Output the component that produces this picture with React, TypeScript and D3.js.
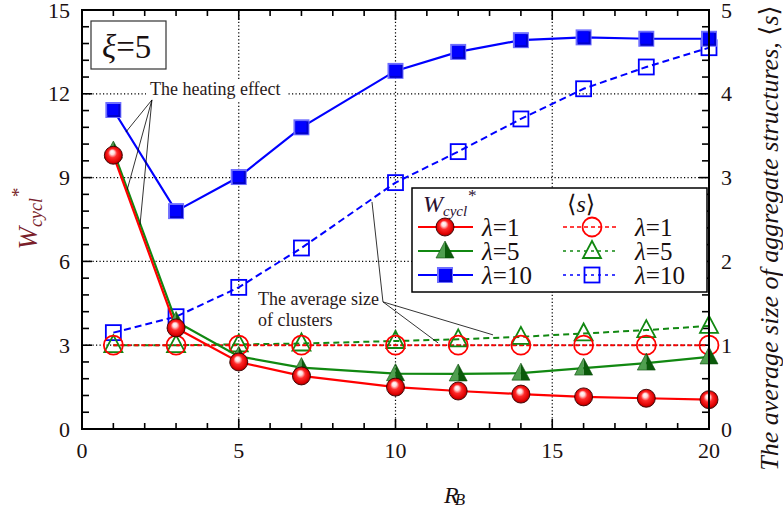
import React from "react";
import * as d3 from "d3";

const xValues = [1, 3, 5, 7, 10, 12, 14, 16, 18, 20];
const wLambda1 = [9.8, 3.62, 2.4, 1.9, 1.5, 1.36, 1.25, 1.15, 1.1, 1.05];
const wLambda5 = [9.95, 3.85, 2.6, 2.2, 1.98, 1.97, 2.0, 2.18, 2.36, 2.58];
const wLambda10 = [11.42, 7.8, 9.02, 10.8, 12.82, 13.5, 13.92, 14.02, 13.97, 13.97];
const sLambda1 = [1, 1, 1, 1, 1, 1, 1, 1, 1, 1];
const sLambda5 = [1.0, 1.0, 1.01, 1.02, 1.05, 1.07, 1.1, 1.14, 1.18, 1.23];
const sLambda10 = [1.15, 1.34, 1.69, 2.16, 2.94, 3.31, 3.7, 4.06, 4.32, 4.55];
const xTicks = [0, 5, 10, 15, 20];
const yLeftTicks = [0, 3, 6, 9, 12, 15];
const yRightTicks = [0, 1, 2, 3, 4, 5];
const lambdaLabels = ["1", "5", "10"];
const heatingAnchor = [2.23, 11.78];
const heatingTargets = [[1.4, 10.63], [1.44, 8.56], [1.85, 7.3]];
const avgAnchor = [9.6, 4.55];
const avgTargets = [[9.25, 8.13], [11.36, 3.08], [13.11, 3.37]];

const FONT = "'Liberation Serif', 'Times New Roman', 'DejaVu Serif', serif";
const RED = "#ff0000";
const GREEN = "#118811";
const BLUE = "#0000ff";

type Kind = "ball" | "tri" | "sq" | "oc" | "ot" | "os";

function Marker({ kind, cx, cy }: { kind: Kind; cx: number; cy: number }) {
  switch (kind) {
    case "ball":
      return <circle cx={cx} cy={cy} r={9} fill="url(#redBall)" stroke="#3a0000" strokeWidth={0.9} />;
    case "tri":
      return (
        <g>
          <polygon points={`${cx},${cy - 10} ${cx - 9},${cy + 7} ${cx},${cy + 7}`} fill="#4f9f4f" />
          <polygon points={`${cx},${cy - 10} ${cx + 9},${cy + 7} ${cx},${cy + 7}`} fill="#0a5a0a" />
          <polygon points={`${cx},${cy - 10} ${cx - 9},${cy + 7} ${cx + 9},${cy + 7}`} fill="none" stroke="#0b4d0b" strokeWidth={0.6} />
        </g>
      );
    case "sq":
      return (
        <g>
          <rect x={cx - 8} y={cy - 8} width={16} height={16} fill="#6e6eff" />
          <rect x={cx - 6} y={cy - 6} width={13} height={13} fill="#0000cc" />
          <rect x={cx - 6} y={cy - 6} width={11} height={11} fill="#0000ff" />
        </g>
      );
    case "oc":
      return <circle cx={cx} cy={cy} r={9.5} fill="none" stroke={RED} strokeWidth={1.8} />;
    case "ot":
      return (
        <polygon
          points={`${cx},${cy - 10} ${cx - 9},${cy + 7} ${cx + 9},${cy + 7}`}
          fill="none"
          stroke={GREEN}
          strokeWidth={1.8}
        />
      );
    case "os":
      return <rect x={cx - 7.5} y={cy - 7.5} width={15} height={15} fill="none" stroke={BLUE} strokeWidth={1.8} />;
  }
  return null;
}

export default function App() {
  const W = 783;
  const H = 506;
  const x = d3.scaleLinear().domain([0, 20]).range([82, 709]);
  const yL = d3.scaleLinear().domain([0, 15]).range([429, 10]);
  const yR = d3.scaleLinear().domain([0, 5]).range([429, 10]);

  const lineL = d3
    .line<number>()
    .x((_, i) => x(xValues[i]))
    .y((d) => yL(d));
  const lineR = d3
    .line<number>()
    .x((_, i) => x(xValues[i]))
    .y((d) => yR(d));

  const sSeries = [
    { data: sLambda10, color: BLUE, dash: "7,4", kind: "os" as Kind },
    { data: sLambda5, color: GREEN, dash: "6,4", kind: "ot" as Kind },
    { data: sLambda1, color: RED, dash: "4,3", kind: "oc" as Kind },
  ];
  const wSeries = [
    { data: wLambda10, color: BLUE, kind: "sq" as Kind },
    { data: wLambda5, color: GREEN, kind: "tri" as Kind },
    { data: wLambda1, color: RED, kind: "ball" as Kind },
  ];

  const xMinor = d3.range(0, 21, 1);
  const yLMinor = d3.range(0, 26).map((i) => i * 0.6);
  const yRMinor = d3.range(0, 26).map((i) => i * 0.2);
  const [x0, x1] = x.range();
  const [yb, yt] = yL.range();

  const legendRows = [
    { color: RED, w: "ball" as Kind, s: "oc" as Kind, dash: "4,3" },
    { color: GREEN, w: "tri" as Kind, s: "ot" as Kind, dash: "3,4" },
    { color: BLUE, w: "sq" as Kind, s: "os" as Kind, dash: "3,4" },
  ];

  return (
    <svg
      width={W}
      height={H}
      style={{ position: "absolute", left: 0, top: 0, background: "#fff" }}
      fontFamily={FONT}
    >
      <defs>
        <radialGradient id="redBall" cx="0.5" cy="0.5" r="0.55" fx="0.42" fy="0.3">
          <stop offset="0" stopColor="#ffffff" />
          <stop offset="0.22" stopColor="#ffdada" />
          <stop offset="0.45" stopColor="#ff2a2a" />
          <stop offset="0.8" stopColor="#dd0000" />
          <stop offset="1" stopColor="#6a0000" />
        </radialGradient>
        <clipPath id="plotClip">
          <rect x={x0} y={yt - 12} width={x1 - x0 + 12} height={yb - yt + 12} />
        </clipPath>
      </defs>
      <rect x={0} y={0} width={W} height={H} fill="#fff" />

      {/* gridlines */}
      {[5, 10, 15].map((v) => (
        <line key={"gx" + v} x1={x(v)} x2={x(v)} y1={yb} y2={yt} stroke="#000" strokeWidth={1.2} strokeDasharray="1.2,2.3" />
      ))}
      {[3, 6, 9, 12].map((v) => (
        <line key={"gy" + v} x1={x0} x2={x1} y1={yL(v)} y2={yL(v)} stroke="#000" strokeWidth={1.2} strokeDasharray="1.2,2.3" />
      ))}

      {/* ticks */}
      {xMinor.map((v) => {
        const len = v % 5 === 0 ? 10 : 6;
        return (
          <g key={"xt" + v}>
            <line x1={x(v)} x2={x(v)} y1={yb} y2={yb - len} stroke="#000" strokeWidth={1.6} />
            <line x1={x(v)} x2={x(v)} y1={yt} y2={yt + len} stroke="#000" strokeWidth={1.6} />
          </g>
        );
      })}
      {yLMinor.map((v, i) => {
        const len = i % 5 === 0 ? 10 : 7;
        return <line key={"ylt" + i} x1={x0} x2={x0 + len} y1={yL(v)} y2={yL(v)} stroke="#000" strokeWidth={1.6} />;
      })}
      {yRMinor.map((v, i) => {
        const len = i % 5 === 0 ? 10 : 7;
        return <line key={"yrt" + i} x1={x1} x2={x1 - len} y1={yR(v)} y2={yR(v)} stroke="#000" strokeWidth={1.6} />;
      })}

      {/* heating effect label with white background */}
      <rect x={146} y={80} width={142} height={20} fill="#fff" />
      <text x={150} y={95} fontSize={18} fill="#2a1a1a">
        The heating effect
      </text>

      {/* <s> series */}
      {sSeries.map((s, k) => (
        <path key={"sl" + k} d={lineR(s.data) || ""} fill="none" stroke={s.color} strokeWidth={2} strokeDasharray={s.dash} />
      ))}
      {sSeries.map((s, k) =>
        s.data.map((d, i) => <Marker key={"sm" + k + "-" + i} kind={s.kind} cx={x(xValues[i])} cy={yR(d)} />)
      )}

      {/* W series */}
      {wSeries.map((s, k) => (
        <path key={"wl" + k} d={lineL(s.data) || ""} fill="none" stroke={s.color} strokeWidth={2.2} />
      ))}
      {wSeries.map((s, k) =>
        s.data.map((d, i) => <Marker key={"wm" + k + "-" + i} kind={s.kind} cx={x(xValues[i])} cy={yL(d)} />)
      )}

      {/* leader lines */}
      {heatingTargets.map((t, i) => (
        <line key={"hl" + i} x1={x(heatingAnchor[0])} y1={yL(heatingAnchor[1])} x2={x(t[0])} y2={yL(t[1])} stroke="#000" strokeWidth={0.8} />
      ))}
      {avgTargets.map((t, i) => (
        <line key={"al" + i} x1={x(avgAnchor[0])} y1={yL(avgAnchor[1])} x2={x(t[0])} y2={yL(t[1])} stroke="#000" strokeWidth={0.8} />
      ))}
      <text x={258} y={305} fontSize={18} fill="#2a1a1a">
        The average size
      </text>
      <text x={258} y={326} fontSize={18} fill="#2a1a1a">
        of clusters
      </text>

      {/* xi box */}
      <rect x={91} y={21} width={75} height={48} fill="#fff" stroke="#333" strokeWidth={1.2} />
      <text x={102} y={58} fontSize={33} fill="#1a1010">
        <tspan fontStyle="italic">ξ</tspan>=5
      </text>

      {/* legend */}
      <rect x={412} y={188} width={295} height={104} fill="#fff" stroke="#000" strokeWidth={1.5} />
      <text x={423} y={212} fontSize={24} fill="#2a1030" fontStyle="italic">
        W<tspan fontSize={15} dy={4}>cycl</tspan>
        <tspan fontSize={17} dy={-15}>*</tspan>
      </text>
      <text x={567} y={212} fontSize={24} fill="#1a1010">
        ⟨<tspan fontStyle="italic">s</tspan>⟩
      </text>
      {legendRows.map((r, i) => {
        const cy = 227 + i * 24;
        return (
          <g key={"lg" + i}>
            <line x1={418} x2={473} y1={cy} y2={cy} stroke={r.color} strokeWidth={2} />
            <Marker kind={r.w} cx={445} cy={cy} />
            <text x={482} y={cy + 9} fontSize={25} fill="#1a1010">
              <tspan fontStyle="italic">λ</tspan>={lambdaLabels[i]}
            </text>
            <line x1={563} x2={619} y1={cy} y2={cy} stroke={r.color} strokeWidth={1.6} strokeDasharray={r.dash} />
            <Marker kind={r.s} cx={592} cy={cy} />
            <text x={635} y={cy + 9} fontSize={25} fill="#1a1010">
              <tspan fontStyle="italic">λ</tspan>={lambdaLabels[i]}
            </text>
          </g>
        );
      })}

      {/* frame */}
      <rect x={x0} y={yt} width={x1 - x0} height={yb - yt} fill="none" stroke="#000" strokeWidth={2} />

      {/* tick labels */}
      {xTicks.map((v) => (
        <text key={"xl" + v} x={x(v)} y={458} fontSize={22} textAnchor="middle" fill="#1a1010">
          {v}
        </text>
      ))}
      {yLeftTicks.map((v) => (
        <text key={"yll" + v} x={70} y={yL(v) + 7.5} fontSize={22} textAnchor="end" fill="#1a1010">
          {v}
        </text>
      ))}
      {yRightTicks.map((v) => (
        <text key={"yrl" + v} x={721} y={yR(v) + 7.5} fontSize={22} textAnchor="start" fill="#1a1010">
          {v}
        </text>
      ))}

      {/* axis titles */}
      <text transform="translate(37,219) rotate(-90)" textAnchor="middle" fontSize={27} fill="#7a1f2b" fontStyle="italic">
        W<tspan fontSize={18} dy={5}>cycl</tspan>
        <tspan fontSize={19} dy={-17}>*</tspan>
      </text>
      <text transform="translate(778,238) rotate(-90)" textAnchor="middle" fontSize={26} fill="#1a1010" fontStyle="italic">
        The average size of aggregate structures, <tspan fontStyle="normal">⟨</tspan>s<tspan fontStyle="normal">⟩</tspan>
      </text>
      <text x={444} y={503} fontSize={24} fill="#1a1010" fontStyle="italic">
        R<tspan fontSize={17} dx={-4} dy={2}>B</tspan>
      </text>
    </svg>
  );
}
